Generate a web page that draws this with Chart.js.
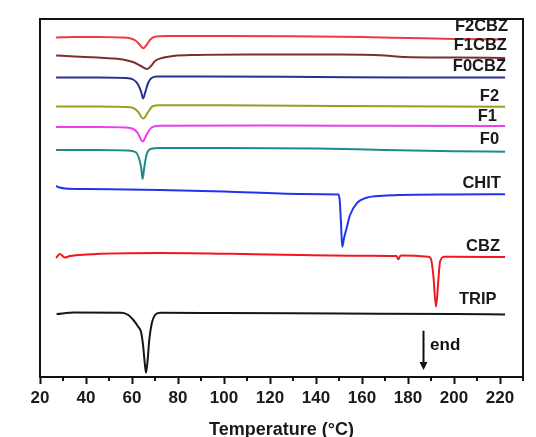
<!DOCTYPE html>
<html>
<head>
<meta charset="utf-8">
<script src="https://cdn.jsdelivr.net/npm/chart.js@4.4.1/dist/chart.umd.min.js"></script>
<style>
html,body{margin:0;padding:0;background:#ffffff;}
#wrap{width:536px;height:437px;}
</style>
</head>
<body>
<div id="wrap"><canvas id="c" width="536" height="437"></canvas></div>
<script>
// DSC thermograms: temperature (°C) and stacked heat flow (a.u., offset per curve)
const tempF2CBZ = [27, 35, 45, 55, 59, 61.5, 63.5, 64.9, 66.3, 68, 70, 75, 100, 130, 160, 180, 200, 222.2];
const hfF2CBZ   = [339.5, 340, 340, 339.5, 338.7, 336.5, 332, 328.7, 332, 337.5, 340.2, 341, 341, 340.7, 340, 339, 338, 337.5];

const tempF1CBZ = [27, 35, 45, 52, 57, 61, 63.5, 66.6, 68.3, 70, 73, 78, 88, 110, 150, 170, 178, 200, 222.2];
const hfF1CBZ   = [321.5, 320.5, 319.5, 318.5, 317, 314.5, 311.5, 308, 311, 316, 319, 321, 322, 322.5, 322.5, 321.5, 320, 319.5, 319];

const tempF0CBZ = [27, 45, 57, 60.5, 62.5, 64, 64.8, 65.8, 67, 68.5, 71, 90, 140, 180, 222.2];
const hfF0CBZ   = [299.5, 299.5, 299, 297.5, 293, 285, 278.5, 285, 294, 299, 300.5, 300.5, 300, 299.5, 299.5];

const tempF2 = [27, 45, 57, 60.5, 62.5, 64.9, 67, 68.8, 72, 100, 150, 222.2];
const hfF2   = [270.5, 270.5, 270, 269, 265.5, 258.5, 265, 270.5, 271.7, 271.7, 271, 270.3];

const tempF1 = [27, 45, 57, 60.5, 62.5, 64.6, 66.5, 68.5, 72, 120, 170, 222.2];
const hfF1   = [250, 250, 249.5, 248, 244, 235.5, 243, 249.5, 251.2, 251.5, 251.2, 251];

const tempF0 = [27, 45, 58, 61.5, 63, 64, 64.6, 65.3, 66.3, 68, 72, 100, 140, 170, 200, 222.2];
const hfF0   = [227, 227, 226.5, 225, 219, 209, 198, 209, 222, 228, 229, 229, 228.5, 227, 225.8, 225.3];

const tempCHIT = [27, 28.5, 31, 40, 72, 100, 133, 149.7, 150.3, 150.9, 151.4, 152.2, 153.3, 154.8, 157.7, 162, 169.3, 176.5, 200, 222.2];
const hfCHIT   = [191, 189.5, 188.5, 188, 187, 185.5, 183, 182.5, 177, 152, 130.3, 139, 148.7, 162, 173.7, 179.3, 181.3, 182, 182.5, 182.7];

const tempCBZ = [27, 28.6, 30.8, 33, 40, 72, 120, 163.5, 175, 175.8, 176.6, 177.3, 188.8, 190, 191, 192.2, 193.2, 193.9, 195.7, 200, 222.2];
const hfCBZ   = [119, 123, 119.5, 121, 122.5, 124, 122.5, 121.3, 121, 117.7, 121, 121.5, 120.3, 118, 102, 70.3, 97, 115, 120.3, 120.3, 120];

const tempTRIP = [27.2, 35, 55.5, 58.4, 60.6, 62.7, 63.9, 64.8, 65.5, 66.1, 66.8, 67.5, 68.6, 70, 72.2, 100, 150, 200, 222.2];
const hfTRIP   = [63, 64.5, 64.3, 62, 57, 50.3, 45.3, 32, 15, 4.3, 17, 37, 53.7, 62, 64.3, 64, 63.5, 63, 62.5];

const seriesNames = ['F2CBZ', 'F1CBZ', 'F0CBZ', 'F2', 'F1', 'F0', 'CHIT', 'CBZ', 'TRIP'];
const seriesTemps = [tempF2CBZ, tempF1CBZ, tempF0CBZ, tempF2, tempF1, tempF0, tempCHIT, tempCBZ, tempTRIP];
const seriesHF    = [hfF2CBZ, hfF1CBZ, hfF0CBZ, hfF2, hfF1, hfF0, hfCHIT, hfCBZ, hfTRIP];
const seriesColors = ['#ee3b43', '#7a2e2e', '#2b2f8f', '#9c9c22', '#f03cf0', '#1f8a8a', '#2233ee', '#f01820', '#161616'];

// curve label anchors (right edge temperature, vertical centre in heat-flow units)
const labelTemps = [223.5, 223.0, 222.6, 219.6, 218.7, 219.6, 220.4, 220.0, 218.5];
const labelHF    = [350.3, 332, 310.3, 281, 261, 237.7, 193.5, 131, 78];

// "end" arrow annotation
const endArrowTemp = 186.4;
const endArrowTop = 46.3;
const endArrowTip = 7;
const endTextTemp = 189.6;
const endTextHF = 32;

const xMin = 20, xMax = 230, yMin = 0, yMax = 358;
const FONT = '"Liberation Sans", Arial, Helvetica, sans-serif';

const datasets = seriesNames.map((name, i) => ({
  label: name,
  data: seriesTemps[i].map((t, j) => ({x: t, y: seriesHF[i][j]})),
  borderColor: seriesColors[i],
  backgroundColor: seriesColors[i],
  borderWidth: 2,
  pointRadius: 0,
  fill: false,
  tension: 0.4,
  cubicInterpolationMode: 'monotone'
}));

const decorPlugin = {
  id: 'decor',
  afterDraw(chart) {
    const {ctx, chartArea: a} = chart;
    const xs = chart.scales.x, ys = chart.scales.y;
    ctx.save();
    // frame
    ctx.strokeStyle = '#111';
    ctx.lineWidth = 2;
    ctx.strokeRect(a.left, a.top, a.right - a.left, a.bottom - a.top);
    // minor ticks
    ctx.lineWidth = 2;
    for (let v = 30; v <= 230; v += 20) {
      const px = Math.round(xs.getPixelForValue(v));
      ctx.beginPath();
      ctx.moveTo(px, a.bottom);
      ctx.lineTo(px, a.bottom + 4);
      ctx.stroke();
    }
    // curve labels
    ctx.fillStyle = '#1a1a1a';
    ctx.font = 'bold 16.5px ' + FONT;
    ctx.textAlign = 'right';
    ctx.textBaseline = 'middle';
    seriesNames.forEach((n, i) => {
      ctx.fillText(n, xs.getPixelForValue(labelTemps[i]), ys.getPixelForValue(labelHF[i]));
    });
    // end arrow
    const ax = Math.round(xs.getPixelForValue(endArrowTemp)) + 0.5;
    const ay1 = ys.getPixelForValue(endArrowTop);
    const ay2 = ys.getPixelForValue(endArrowTip);
    ctx.strokeStyle = '#111';
    ctx.lineWidth = 2;
    ctx.beginPath();
    ctx.moveTo(ax, ay1);
    ctx.lineTo(ax, ay2 - 6);
    ctx.stroke();
    ctx.fillStyle = '#111';
    ctx.beginPath();
    ctx.moveTo(ax - 4, ay2 - 8);
    ctx.lineTo(ax + 4, ay2 - 8);
    ctx.lineTo(ax, ay2);
    ctx.closePath();
    ctx.fill();
    ctx.font = 'bold 17px ' + FONT;
    ctx.textAlign = 'left';
    ctx.fillText('end', xs.getPixelForValue(endTextTemp), ys.getPixelForValue(endTextHF));
    ctx.restore();
  }
};

new Chart(document.getElementById('c'), {
  type: 'line',
  data: {datasets},
  options: {
    responsive: false,
    animation: false,
    devicePixelRatio: 1,
    layout: {padding: {left: 40, right: 13, top: 19, bottom: 0}},
    plugins: {legend: {display: false}, tooltip: {enabled: false}},
    scales: {
      x: {
        type: 'linear',
        min: xMin, max: xMax,
        afterFit(scale) { scale.height = 60; },
        border: {display: true, color: '#111', width: 2},
        grid: {
          drawOnChartArea: false,
          drawTicks: true,
          tickLength: 7,
          tickWidth: 2,
          tickColor: (c) => (c.tick && c.tick.value % 20 === 0) ? '#111' : 'rgba(0,0,0,0)'
        },
        ticks: {
          stepSize: 10,
          autoSkip: false,
          maxRotation: 0,
          padding: 4,
          color: '#1a1a1a',
          font: {family: FONT, size: 17, weight: 'bold'},
          callback: (v) => (v % 20 === 0 && v <= 220) ? String(v) : ''
        },
        title: {
          display: true,
          text: 'Temperature (°C)',
          color: '#1a1a1a',
          font: {family: FONT, size: 18, weight: 'bold', lineHeight: 0.8},
          padding: {top: 0, bottom: 0}
        }
      },
      y: {
        type: 'linear',
        display: false,
        min: yMin, max: yMax
      }
    }
  },
  plugins: [decorPlugin]
});
</script>
</body>
</html>
